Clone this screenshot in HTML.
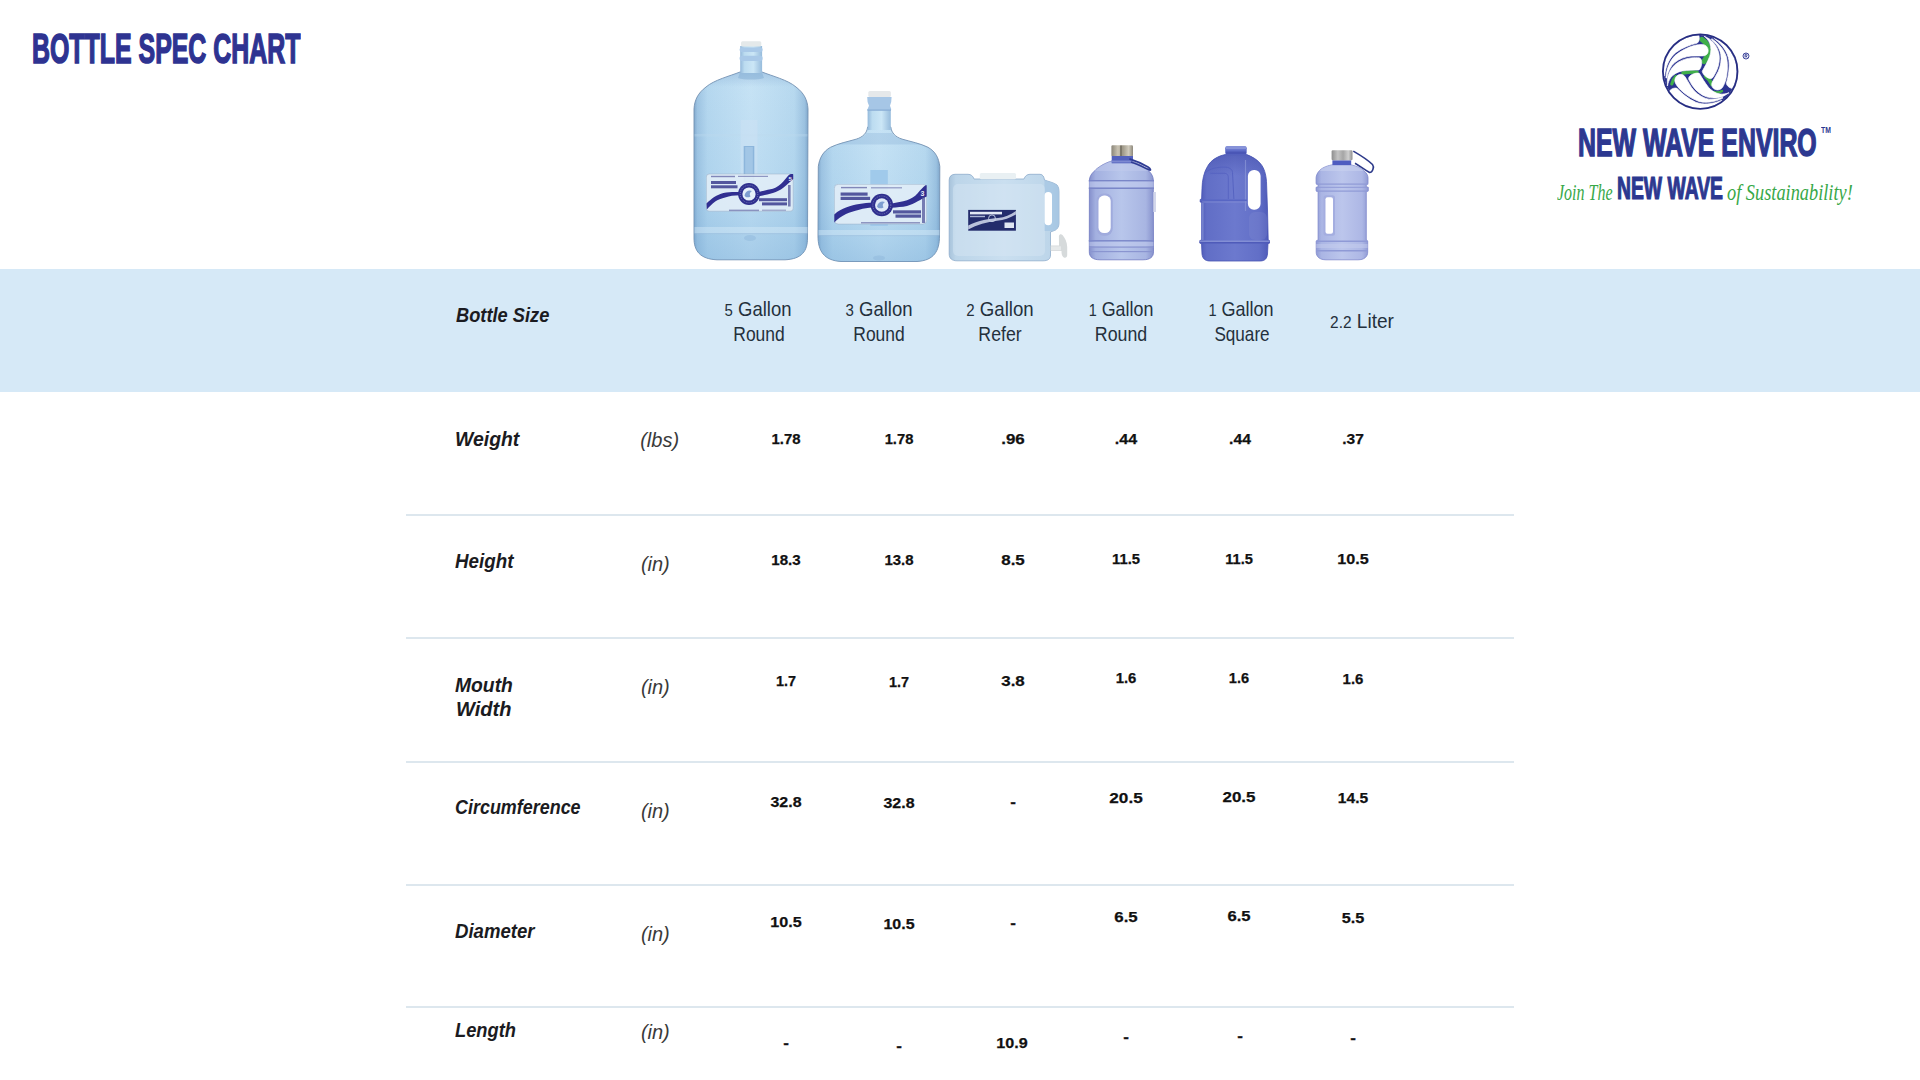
<!DOCTYPE html>
<html><head><meta charset="utf-8">
<style>
*{margin:0;padding:0;box-sizing:border-box}
html,body{width:1920px;height:1080px;overflow:hidden;background:#fff}
body{position:relative;font-family:"Liberation Sans",sans-serif}
.a{position:absolute;white-space:nowrap;line-height:1}
#title{left:31.6px;top:28px;font-size:42.5px;font-weight:bold;color:#2e3391;-webkit-text-stroke:1.6px #2e3391;transform-origin:0 0;transform:scaleX(0.586)}
#band{position:absolute;left:0;top:269px;width:1920px;height:123px;background:#d6e9f7}
.ln{position:absolute;left:406px;width:1108px;height:2px;background:#dde7ee}
.lab{font-size:21px;font-weight:bold;font-style:italic;color:#1b1b21;transform-origin:0 0}
.unit{font-size:20px;font-style:italic;color:#3a3a3a}
.hd{font-size:21px;color:#24303c;transform-origin:50% 0}
.v{font-size:15.5px;font-weight:bold;color:#111;-webkit-text-stroke:0.25px #111}
svg{position:absolute}
</style></head><body>
<div id="band"></div>
<div class="ln" style="top:514px"></div>
<div class="ln" style="top:637px"></div>
<div class="ln" style="top:761px"></div>
<div class="ln" style="top:884px"></div>
<div class="ln" style="top:1006px"></div>
<div class="a" id="title">BOTTLE SPEC CHART</div>
<svg style="left:0;top:0" width="1920" height="270" viewBox="0 0 1920 270">
<defs>
<linearGradient id="gb1" x1="0" x2="1" y1="0" y2="0">
 <stop offset="0" stop-color="#83a9cd"/><stop offset="0.03" stop-color="#9fc4e2"/><stop offset="0.12" stop-color="#b6d8ef"/><stop offset="0.5" stop-color="#c7e3f5"/><stop offset="0.88" stop-color="#b8d9ef"/><stop offset="0.97" stop-color="#9dc2e0"/><stop offset="1" stop-color="#81a7cb"/>
</linearGradient>
<linearGradient id="gn1" x1="0" x2="1" y1="0" y2="0">
 <stop offset="0" stop-color="#94b9db"/><stop offset="0.2" stop-color="#bcdcf0"/><stop offset="0.6" stop-color="#cbe6f6"/><stop offset="1" stop-color="#97bcdc"/>
</linearGradient>
<linearGradient id="gsh" x1="0" x2="0" y1="0" y2="1">
 <stop offset="0" stop-color="#7fa6d0" stop-opacity="0.9"/><stop offset="1" stop-color="#7fa6d0" stop-opacity="0"/>
</linearGradient>
<linearGradient id="gb3" x1="0" x2="1" y1="0" y2="0">
 <stop offset="0" stop-color="#a8c3db"/><stop offset="0.06" stop-color="#bcd5e9"/><stop offset="0.5" stop-color="#cadff0"/><stop offset="0.94" stop-color="#bcd5e9"/><stop offset="1" stop-color="#a9c4dc"/>
</linearGradient>
<linearGradient id="gb4" x1="0" x2="1" y1="0" y2="0">
 <stop offset="0" stop-color="#8590cc"/><stop offset="0.1" stop-color="#a3b0e0"/><stop offset="0.5" stop-color="#b8c6eb"/><stop offset="0.88" stop-color="#a8b5e2"/><stop offset="1" stop-color="#8792cd"/>
</linearGradient>
<linearGradient id="gb5" x1="0" x2="1" y1="0" y2="0">
 <stop offset="0" stop-color="#4d59b8"/><stop offset="0.1" stop-color="#616ec6"/><stop offset="0.5" stop-color="#6c79ce"/><stop offset="0.85" stop-color="#626fc7"/><stop offset="1" stop-color="#4c58b7"/>
</linearGradient>
<linearGradient id="gb6" x1="0" x2="1" y1="0" y2="0">
 <stop offset="0" stop-color="#8e99d4"/><stop offset="0.1" stop-color="#aab5e4"/><stop offset="0.5" stop-color="#bcc6ec"/><stop offset="0.88" stop-color="#adb7e5"/><stop offset="1" stop-color="#8f9ad4"/>
</linearGradient>
<linearGradient id="gmet" x1="0" x2="1" y1="0" y2="0">
 <stop offset="0" stop-color="#8a8578"/><stop offset="0.3" stop-color="#c9c3b3"/><stop offset="0.55" stop-color="#a39d8d"/><stop offset="0.8" stop-color="#d0cbbd"/><stop offset="1" stop-color="#8d887b"/>
</linearGradient>
<linearGradient id="gmet2" x1="0" x2="1" y1="0" y2="0">
 <stop offset="0" stop-color="#8e8e8e"/><stop offset="0.3" stop-color="#c4c4c4"/><stop offset="0.55" stop-color="#a5a5a5"/><stop offset="0.8" stop-color="#cfcfcf"/><stop offset="1" stop-color="#909090"/>
</linearGradient>
<linearGradient id="gv" x1="0" x2="0" y1="0" y2="1">
 <stop offset="0" stop-color="#78b2de" stop-opacity="0"/><stop offset="0.55" stop-color="#78b2de" stop-opacity="0.12"/><stop offset="1" stop-color="#6aa2d2" stop-opacity="0.36"/>
</linearGradient>
<linearGradient id="gtop5" x1="0" x2="0" y1="0" y2="1">
 <stop offset="0" stop-color="#3f4aa8" stop-opacity="0.45"/><stop offset="1" stop-color="#3f4aa8" stop-opacity="0"/>
</linearGradient>
</defs>

<!-- ===== Bottle 1: 5 gallon ===== -->
<g>
 <path d="M740,72 C730,76 714,80 706,87 C698,93 694.5,100 694,109 L694,238 C694,251 700,259 717,259.8 L785,259.8 C802,259 807.5,251 807.5,238 L808,109 C807.5,100 804,93 796,87 C788,80 772,76 762,72 Z" fill="url(#gb1)" stroke="#7390b0" stroke-width="0.9"/>
 <path d="M740,72 C730,76 714,80 706,87 C698,93 694.5,100 694,109 L694,238 C694,251 700,259 717,259.8 L785,259.8 C802,259 807.5,251 807.5,238 L808,109 C807.5,100 804,93 796,87 C788,80 772,76 762,72 Z" fill="url(#gv)"/>
 <path d="M740,72 C730,76 714,80 706,87 L796,87 C788,80 772,76 762,72 Z" fill="url(#gsh)" opacity="0.45"/>
 <path d="M740,72.5 L762,72.5 L764,78 C758,80 744,80 738,78 Z" fill="#86b0d6" opacity="0.55"/>
 <rect x="740.2" y="46" width="21.9" height="27" fill="url(#gn1)"/>
 <rect x="739.6" y="47.6" width="23" height="4.4" rx="2" fill="#a9c9e8"/>
 <rect x="739.6" y="55.8" width="23" height="5.2" rx="2" fill="#a9c9e8"/>
 <rect x="741" y="41.3" width="20.3" height="5.2" rx="1.5" fill="#e4e9ea"/>
 <rect x="694.5" y="134" width="113" height="2.5" fill="#bcd9ee" opacity="0.35"/>
 <rect x="694.5" y="227" width="113" height="6" fill="#d6ebf8" opacity="0.45"/>
 <rect x="694.5" y="233" width="113" height="1.2" fill="#9fbfdc" opacity="0.4"/>
 <ellipse cx="750" cy="238" rx="6" ry="3" fill="#8fb8dc" opacity="0.5"/>
 <rect x="740.5" y="120" width="17" height="60" fill="#cde2f3" opacity="0.5"/>
 <rect x="743.7" y="146" width="10.6" height="36" fill="#8db6dc"/>
 <rect x="745.2" y="147" width="7.6" height="34" fill="#a2c6e6"/>
 <rect x="706.3" y="174" width="86.9" height="37.2" rx="3" fill="#e2eef8" stroke="#98a9c0" stroke-width="0.5" opacity="0.9"/>
 <path d="M706.5,203.4 C711,199 717,194.5 723.4,193 C729,191.8 734,191.8 740,192 L740,195.3 C734,195.5 729,196 726,197.2 C721,198.5 717.5,200 715.6,201.3 C712,204 709,207 706.8,209.6 Z" fill="#302f91"/>
 <path d="M758.9,192 C764,190.5 769,189.8 772.9,188.8 C777,187.5 780.5,184.5 783.3,181.5 C786,178.5 788,175.5 789.6,174.6 C791,174 792.5,174 793.2,174.3 L793.2,179 C791.5,180.5 788,184 783.3,187.8 C780,190.3 777,191.8 772.9,193 C768,194.5 764,195.3 758.9,196.3 Z" fill="#302f91"/>
 <circle cx="749" cy="194" r="10.9" fill="#2f2f8e"/>
 <circle cx="749" cy="194" r="6.6" fill="#e6f0fa"/>
 <path d="M744.5,195.5 C745.5,191 749,189.5 752,191 C750,192 749,194 750.5,196.5 C748,198 745.5,197.5 744.5,195.5 Z" fill="#7e9ed0"/>
 <circle cx="749" cy="194" r="8.8" fill="none" stroke="#c8d4ee" stroke-width="0.6" stroke-dasharray="1 1.2" opacity="0.7"/>
 <rect x="711" y="175.8" width="24" height="1.4" fill="#5a5d9e" opacity="0.7"/>
 <rect x="738" y="175.8" width="30" height="1.2" fill="#5a5d9e" opacity="0.6"/>
 <rect x="711" y="181" width="25" height="3" fill="#3b3d8e" opacity="0.85"/>
 <rect x="711" y="185.3" width="26.5" height="3" fill="#3b3d8e" opacity="0.85"/>
 <rect x="759" y="198.2" width="28" height="3" fill="#3b3d8e" opacity="0.85"/>
 <rect x="762" y="202.4" width="25" height="3" fill="#3b3d8e" opacity="0.85"/>
 <rect x="788" y="185" width="2.6" height="21.5" fill="#4a4d96" opacity="0.7"/>
 <rect x="729" y="209.6" width="30" height="1.5" fill="#5a5d9e" opacity="0.6"/>
 <rect x="762" y="209.6" width="24" height="1.2" fill="#5a5d9e" opacity="0.5"/>
 <text x="788.5" y="180.5" font-family="Liberation Sans" font-weight="bold" font-size="6" fill="#e8eef8">5</text>
</g>

<!-- ===== Bottle 2: 3 gallon ===== -->
<g>
 <path d="M867.6,127 C867,133 863,137 856.4,139.1 C848,141.6 838,143.5 830.5,147.3 C823,151.5 819.5,158 818.3,166.5 L818,236 C818,251 824,260.5 841,261.5 L917,261.5 C934,260.5 939.5,251 939.5,236 L939.8,166.5 C938.8,158 935.5,151.5 928,147.3 C920.5,143.5 910.5,141.6 902,139.1 C895.5,137 891.5,133 890.8,127 Z" fill="url(#gb1)" stroke="#7390b0" stroke-width="0.9"/>
 <path d="M867.6,127 C867,133 863,137 856.4,139.1 C848,141.6 838,143.5 830.5,147.3 C823,151.5 819.5,158 818.3,166.5 L818,236 C818,251 824,260.5 841,261.5 L917,261.5 C934,260.5 939.5,251 939.5,236 L939.8,166.5 C938.8,158 935.5,151.5 928,147.3 C920.5,143.5 910.5,141.6 902,139.1 C895.5,137 891.5,133 890.8,127 Z" fill="url(#gv)"/>
 <path d="M866.5,133 C864,137 860,138.5 856.4,139.1 C848,141.6 842,143 838,144.5 L920,144.5 C916,143 910.5,141.6 902,139.1 C898.5,138.5 894.5,137 892,133 Z" fill="#86acd4" opacity="0.3"/>
 <rect x="867.6" y="109" width="23.2" height="21" fill="url(#gn1)"/>
 <path d="M867.2,97 L891.6,97 L891.2,102 L890,105.8 L891.2,109 L891,110.2 L867.6,110.2 L867.6,109 L869,105.8 L867.6,102 Z" fill="#a6c6e6"/>
 <rect x="867.4" y="109.5" width="23.6" height="1.2" fill="#86acd4"/>
 <rect x="868.3" y="91" width="22.6" height="6" rx="1.5" fill="#e5e8ea"/>
 <rect x="818.5" y="230" width="121" height="5" fill="#d6ebf8" opacity="0.45"/>
 <rect x="818.5" y="235" width="121" height="1.2" fill="#9fbfdc" opacity="0.4"/>
 <ellipse cx="879" cy="258" rx="6" ry="2.5" fill="#8fb8dc" opacity="0.5"/>
 <rect x="870.3" y="170" width="17.5" height="56" fill="#9cc8ea" opacity="0.9"/>
 <rect x="834.3" y="184.3" width="92.4" height="39.8" rx="4" fill="#e2eef8" stroke="#98a9c0" stroke-width="0.5" opacity="0.9"/>
 <path d="M834.3,214.5 C838,211 842,209 846,207.6 C851,205.6 855,204.5 859.2,203.9 C864,203.2 868,202.9 872.5,202.8 L872.5,207.6 C868,207.8 864,208.4 859.2,209.8 C854,211 850,212.3 846,214 C841,216.5 837,219.5 834.3,222.5 Z" fill="#302f91"/>
 <path d="M891.7,203.4 C897,202.2 902,201.6 907,200.2 C911,199 914.5,196.8 917.7,193.3 C920.5,190 923,187 925.6,185.3 L926.7,185.3 L926.7,196.5 C923,198 920.5,199.8 917.7,201.3 C914,203.5 911,205 907,206 C902,207 897,207.4 891.7,207.8 Z" fill="#302f91"/>
 <circle cx="881.8" cy="205" r="11.2" fill="#2f2f8e"/>
 <circle cx="881.8" cy="205" r="6.8" fill="#dfeaf8"/>
 <path d="M877,206.5 C878,202 882,200.5 885,202 C883,203 882,205 883.5,207.5 C881,209 878,208.5 877,206.5 Z" fill="#7e9ed0"/>
 <circle cx="881.8" cy="205" r="9" fill="none" stroke="#c8d4ee" stroke-width="0.6" stroke-dasharray="1 1.2" opacity="0.7"/>
 <rect x="841" y="186.9" width="26" height="1.4" fill="#5a5d9e" opacity="0.7"/>
 <rect x="871" y="187.2" width="31" height="1.2" fill="#5a5d9e" opacity="0.6"/>
 <rect x="840.6" y="192.5" width="27" height="3.2" fill="#3b3d8e" opacity="0.85"/>
 <rect x="840.6" y="196.8" width="29.5" height="3.2" fill="#3b3d8e" opacity="0.85"/>
 <rect x="893" y="210.3" width="28" height="3.2" fill="#3b3d8e" opacity="0.85"/>
 <rect x="895.5" y="214.5" width="25.5" height="3.2" fill="#3b3d8e" opacity="0.85"/>
 <rect x="922" y="197" width="3" height="26" fill="#4a4d96" opacity="0.7"/>
 <rect x="861" y="222" width="59" height="1.5" fill="#5a5d9e" opacity="0.6"/>
 <text x="920.5" y="195.5" font-family="Liberation Sans" font-weight="bold" font-size="7" fill="#e8eef8">3</text>
</g>

<!-- ===== Bottle 3: 2 gallon refer ===== -->
<g>
 <path d="M955,174.3 L968,174.3 C971,174.3 973,176 974,179 L1024,179 C1025,176 1027,174.3 1030,174.3 L1040,174.3 C1043,174.3 1044,177 1044.5,180 C1048,181.5 1054,182.5 1057,185 C1058.5,187 1059,189 1059,192 L1059,223 C1059,227 1057,230 1053,231 L1050.5,232 L1050.5,255 C1050.5,259 1048,260.8 1043,260.8 L957,260.8 C952,260.8 949.2,258.5 949.2,254 L949.2,180 C949.2,176.5 951.5,174.3 955,174.3 Z" fill="url(#gb3)" stroke="#8eaccb" stroke-width="0.8"/>
 <path d="M1044.5,180 C1048,181.5 1054,182.5 1057,185 C1058.5,187 1059,189 1059,192 L1059,223 C1059,227 1057,230 1053,231 L1044,231 Z" fill="#a6c7e4" opacity="0.8"/>
 <rect x="1044.5" y="191.9" width="7.5" height="33.3" rx="3.7" fill="#ffffff"/>
 <rect x="979.8" y="172.9" width="36.2" height="6.3" rx="1.5" fill="#e9f0f3"/>
 <rect x="953" y="184" width="92" height="72" rx="5" fill="#d6e7f3" opacity="0.45"/>
 <rect x="968.2" y="209.9" width="47.7" height="20.8" fill="#232c6c"/>
 <path d="M968.2,225.5 C978,220.5 990,218.5 998,218 C1005,217.3 1010,215 1015.9,211 L1015.9,214.5 C1010,218 1004,220 997,220.8 C987,222 977,225 968.2,229.5 Z" fill="#d3dcef" opacity="0.85"/>
 <rect x="970" y="211.8" width="32" height="2.6" fill="#e3e9f5"/>
 <rect x="970" y="215.8" width="15" height="1.4" fill="#aab5d5"/>
 <circle cx="992" cy="218.3" r="3.4" fill="none" stroke="#c9d4ea" stroke-width="0.9"/>
 <rect x="1004.5" y="222.5" width="9.5" height="5.5" fill="#dfe6f3"/>
 <path d="M1050.6,245.6 L1059,245.6 L1058.9,236 C1059.5,234 1061,233.5 1062.5,235 C1065,238 1067.2,242 1067.2,247 L1067.2,255 C1067.2,257.5 1065.5,258 1064,257.5 C1062,256.5 1061.5,254 1061.5,251.1 L1050.6,251.1 Z" fill="#d6dadb"/>
 <rect x="1051" y="246.3" width="10" height="4" fill="#e6e9ea"/>
</g>

<!-- ===== Bottle 4: 1 gallon round ===== -->
<g>
 <path d="M1111.7,161 C1105,163 1098,167 1094.4,171.1 C1091,174 1089.6,177 1089.4,180 L1089.3,252 C1089.3,257 1093,259.8 1100,259.8 L1143,259.8 C1150,259.8 1153.5,257 1153.5,252 L1153.3,180 C1153.2,177 1152,174 1148.9,171.1 C1145,167 1137,163 1129.4,160 Z" fill="url(#gb4)" stroke="#6e79c0" stroke-width="0.8"/>
 <path d="M1111.7,161 C1105,163 1098,167 1094.4,171.1 L1148.9,171.1 C1145,167 1137,163 1129.4,160 Z" fill="#c3cced" opacity="0.45"/>
 <rect x="1111.7" y="155.5" width="21.3" height="7.8" fill="#5361bd"/>
 <rect x="1111.7" y="160.5" width="21.3" height="2" fill="#7d89d2"/>
 <rect x="1111.4" y="145.3" width="21.6" height="10.8" rx="1.2" fill="url(#gmet)"/>
 <rect x="1120" y="145.5" width="2.2" height="10.5" fill="#6f6a5e" opacity="0.8"/>
 <path d="M1129.4,158.9 C1136,161 1143,164 1148,167 C1151,169 1151,170.5 1149.5,170 C1144,167.5 1137,164 1131,162" fill="none" stroke="#2f3c94" stroke-width="1.7"/>
 <rect x="1088.8" y="180" width="65.2" height="1.5" fill="#7a86c8"/>
 <rect x="1089.3" y="181.5" width="64.2" height="6" fill="#c2cbee" opacity="0.6"/>
 <rect x="1088.8" y="187.5" width="65.2" height="1.5" fill="#7a86c8"/>
 <rect x="1088.8" y="240" width="65.2" height="1.5" fill="#7f8bcb"/>
 <rect x="1089.3" y="242" width="64.2" height="4" fill="#c2cbee" opacity="0.5"/>
 <rect x="1089.3" y="246.5" width="64.2" height="1.2" fill="#8a95d0"/>
 <rect x="1089.3" y="251" width="64.2" height="1.2" fill="#8a95d0"/>
 <rect x="1096.5" y="193.6" width="16.2" height="42.2" rx="7" fill="#a0abdd"/>
 <rect x="1098.5" y="195.6" width="12.2" height="37.5" rx="5.5" fill="#ffffff"/>
 <rect x="1153" y="192" width="3" height="20" fill="#c8cde6" opacity="0.8"/>
</g>

<!-- ===== Bottle 5: 1 gallon square ===== -->
<g>
 <path d="M1225.2,154.6 C1218,156 1211,160 1207.5,166.4 C1204,172 1202.2,180 1202,188.6 L1201.6,199 L1200.2,199.5 L1200.2,202 L1201.6,202.5 L1201.6,240 L1199.8,240.6 L1199.8,243 L1201.5,243.5 L1202,254 C1202.5,258.5 1205,261 1210,261 L1260,261 C1265,261 1267,258.5 1267.5,254 L1268,243.5 L1269.5,243 L1269.5,240.6 L1268.2,240 L1267.5,210 L1266.5,181.7 C1266,174 1264,168 1261,164.3 C1258,160 1252,156.5 1246.7,154.6 Z" fill="url(#gb5)" stroke="#4653b2" stroke-width="0.8"/>
 <path d="M1225.2,154.6 C1218,156 1211,160 1207.5,166.4 C1205.5,170 1204.5,173 1204,176 L1265,176 C1264,170 1262,167 1261,164.3 C1258,160 1252,156.5 1246.7,154.6 Z" fill="url(#gtop5)"/>
 <rect x="1247.9" y="169.9" width="12.7" height="39.9" rx="6" fill="#ffffff"/>
 <path d="M1245.5,160 L1245.5,211" stroke="#8c98d8" stroke-width="1.2" opacity="0.7"/>
 <rect x="1249" y="212" width="18" height="28" rx="6" fill="#8d98d8" opacity="0.22"/>
 <rect x="1225.2" y="146.2" width="21.5" height="8.5" rx="2" fill="#5f6dc9"/>
 <rect x="1225.6" y="146.2" width="20.7" height="3" rx="1.2" fill="#8793d9"/>
 <rect x="1226" y="151.5" width="20" height="3" fill="#4a56b6"/>
 <path d="M1205.4,172.6 C1210,168.5 1217,167.1 1224.2,167.1 C1229,167.1 1232.5,169 1232.5,172.6 L1233.9,199" fill="none" stroke="#5461c0" stroke-width="0.9"/>
 <path d="M1210.3,173.3 L1224.9,173.3 C1227,173.3 1228.3,175 1228.3,177.5 L1228.3,199" fill="none" stroke="#5461c0" stroke-width="0.8"/>
 <rect x="1201" y="199.5" width="46" height="1.6" fill="#5866c4"/>
 <rect x="1202" y="201.5" width="45" height="1" fill="#8a96d8" opacity="0.7"/>
 <rect x="1199.8" y="240.6" width="69.7" height="1.2" fill="#8a96d8"/>
 <rect x="1199.8" y="242" width="69.7" height="1.5" fill="#4f5bb9"/>
 <rect x="1201.6" y="203" width="2" height="37" fill="#8c98d8" opacity="0.6"/>
</g>

<!-- ===== Bottle 6: 2.2 liter ===== -->
<g>
 <path d="M1353.3,151.1 C1360,155 1368,160 1372.5,164.5 C1374.5,167 1372.5,172.5 1369.6,172.5 C1365,170 1360,166 1355,163.3" fill="none" stroke="#2d3a8a" stroke-width="1.6"/>
 <path d="M1331.9,164.9 C1326,166 1321,168.5 1319.2,171 C1317.2,173 1316.3,175.5 1316.1,177.6 L1316.1,183.7 L1318.1,184.5 L1318.1,186.8 L1316.1,187.3 L1316.1,190.8 L1318.1,191.5 L1318.1,240 L1316.2,241 L1316.2,252 C1316.2,257 1320,259.8 1326,259.8 L1358,259.8 C1364,259.8 1367.7,257 1367.7,252 L1367.7,241 L1366.3,240 L1366.3,191.5 L1368.3,190.8 L1368.3,187.3 L1366.3,186.8 L1366.3,184.5 L1368,183.7 L1368,177.6 C1367.8,175.5 1367,173 1364,171 C1362,168.5 1357,166 1350.7,164.9 Z" fill="url(#gb6)" stroke="#7d88cc" stroke-width="0.8"/>
 <path d="M1331.9,164.9 C1326,166 1321,168.5 1319.2,171 L1364,171 C1362,168.5 1357,166 1350.7,164.9 Z" fill="#ccd3f0" opacity="0.5"/>
 <rect x="1332.4" y="160.3" width="18.8" height="4.8" fill="#4e5cc0"/>
 <rect x="1331.6" y="150.3" width="20.9" height="10" rx="1.2" fill="url(#gmet2)"/>
 <rect x="1316.2" y="183.5" width="52" height="1.2" fill="#8f9ad6"/>
 <rect x="1318" y="186.8" width="48.5" height="1" fill="#8f9ad6"/>
 <rect x="1316.2" y="190.5" width="52" height="1.2" fill="#8f9ad6"/>
 <rect x="1316.2" y="240.5" width="51.5" height="1.5" fill="#8f9ad6"/>
 <rect x="1316.2" y="244" width="51.5" height="4" fill="#c6cdee" opacity="0.5"/>
 <rect x="1316.2" y="250" width="51.5" height="1.5" fill="#8f9ad6"/>
 <rect x="1323.5" y="195.3" width="11.5" height="40.5" rx="2.5" fill="#a4aee0"/>
 <rect x="1325.5" y="197.3" width="7.5" height="36.5" rx="2" fill="#ffffff"/>
</g>
</svg>

<svg style="left:1660px;top:32px" width="80" height="80" viewBox="0 0 80 80">
 <defs>
  <clipPath id="lc"><circle cx="40.2" cy="39.6" r="36.6"/></clipPath>
  
 </defs>
 <g clip-path="url(#lc)">
  <circle cx="40.2" cy="39.6" r="37" fill="#2b3391"/>
  <path d="M42,7.5 C46,10 48.5,14 48.4,19 C48.2,23 46.5,26.5 44,29.5" fill="none" stroke="#3fae4a" stroke-width="5.2" stroke-linecap="round"/>
  <path d="M37,40.2 C33,39.8 28,40 23,41" fill="none" stroke="#3fae4a" stroke-width="3.6" stroke-linecap="round"/>
  <path d="M16,44.5 C14,46.5 12.3,49.5 11.8,52" fill="none" stroke="#3fae4a" stroke-width="3.2" stroke-linecap="round"/>
  <path d="M45.5,44 C48.5,46.5 50.8,49.5 52,52.5" fill="none" stroke="#3fae4a" stroke-width="3.6" stroke-linecap="round"/>
  <path d="M54,60 C57,61 60,60.5 62,59" fill="none" stroke="#3fae4a" stroke-width="2.4" stroke-linecap="round"/>
  <g stroke="#fff" stroke-width="0.65">
   <path d="M3.9,44 A36.3,36.3 0 0 1 38.8,3.3 C39.9,6.5 39,9.8 37.3,11.1 C30,12.9 22,15.9 16,20.4 C10,25.4 5.8,33 4.6,44 Z" fill="#fff"/>
   <path d="M5.9,46 C6.6,36 10,28.8 15,23.6 C21,18.5 28,15.2 34,13.5 C37,12.7 40,12.3 42.5,12.4 C46,12.8 48.2,15.3 48.2,18.7 C48.2,21.8 46,23.7 43,23.9 C39,24 35,23.9 31,24.1 C25,24.7 19.5,26.8 14.8,30.5 C10.5,34.2 8,39.5 6.8,46 Z" fill="#fff"/>
   <path d="M7.3,48 C8.3,41 11.1,36.2 15.2,32.4 C19.5,28.8 25,26.5 31,25.9 C34,25.6 37,25.6 39.2,25.8 C41.2,26.3 41.9,28.6 41.7,31.5 C41.4,34.5 40.5,36.8 38.9,38 C34,38 28,38.1 22.5,38.9 C17.5,39.8 13.5,42.2 10.8,45.6 C9,48 8,51 7.5,54 Z" fill="#fff"/>
  </g>
  <g stroke="#fff" stroke-width="0.65" transform="rotate(120 40.2 39.6)">
   <path d="M3.9,44 A36.3,36.3 0 0 1 38.8,3.3 C39.9,6.5 39,9.8 37.3,11.1 C30,12.9 22,15.9 16,20.4 C10,25.4 5.8,33 4.6,44 Z" fill="#fff"/>
   <path d="M5.9,46 C6.6,36 10,28.8 15,23.6 C21,18.5 28,15.2 34,13.5 C37,12.7 40,12.3 42.5,12.4 C46,12.8 48.2,15.3 48.2,18.7 C48.2,21.8 46,23.7 43,23.9 C39,24 35,23.9 31,24.1 C25,24.7 19.5,26.8 14.8,30.5 C10.5,34.2 8,39.5 6.8,46 Z" fill="#fff"/>
   <path d="M7.3,48 C8.3,41 11.1,36.2 15.2,32.4 C19.5,28.8 25,26.5 31,25.9 C34,25.6 37,25.6 39.2,25.8 C41.2,26.3 41.9,28.6 41.7,31.5 C41.4,34.5 40.5,36.8 38.9,38 C34,38 28,38.1 22.5,38.9 C17.5,39.8 13.5,42.2 10.8,45.6 C9,48 8,51 7.5,54 Z" fill="#fff"/>
  </g>
  <g stroke="#fff" stroke-width="0.65" transform="rotate(240 40.2 39.6)">
   <path d="M3.9,44 A36.3,36.3 0 0 1 38.8,3.3 C39.9,6.5 39,9.8 37.3,11.1 C30,12.9 22,15.9 16,20.4 C10,25.4 5.8,33 4.6,44 Z" fill="#fff"/>
   <path d="M5.9,46 C6.6,36 10,28.8 15,23.6 C21,18.5 28,15.2 34,13.5 C37,12.7 40,12.3 42.5,12.4 C46,12.8 48.2,15.3 48.2,18.7 C48.2,21.8 46,23.7 43,23.9 C39,24 35,23.9 31,24.1 C25,24.7 19.5,26.8 14.8,30.5 C10.5,34.2 8,39.5 6.8,46 Z" fill="#fff"/>
   <path d="M7.3,48 C8.3,41 11.1,36.2 15.2,32.4 C19.5,28.8 25,26.5 31,25.9 C34,25.6 37,25.6 39.2,25.8 C41.2,26.3 41.9,28.6 41.7,31.5 C41.4,34.5 40.5,36.8 38.9,38 C34,38 28,38.1 22.5,38.9 C17.5,39.8 13.5,42.2 10.8,45.6 C9,48 8,51 7.5,54 Z" fill="#fff"/>
  </g>
 </g>
 <circle cx="40.2" cy="39.6" r="37.3" fill="none" stroke="#262d82" stroke-width="1.8"/>
</svg>
<svg style="left:1742px;top:51.5px" width="8" height="8" viewBox="-4 -4 8 8"><circle r="3" fill="none" stroke="#2b3391" stroke-width="0.9"/><path d="M-1,1.7 V-1.7 H0.4 A0.85,0.85 0 0 1 0.4,0 H-1 M0.2,0 L1.2,1.7" fill="none" stroke="#2b3391" stroke-width="0.8"/></svg>
<div class="a" style="left:1577.8px;top:122.8px;font-size:39.5px;font-weight:bold;color:#2c3890;-webkit-text-stroke:1.5px #2c3890;transform-origin:0 0;transform:scaleX(0.630)">NEW WAVE ENVIRO</div>
<div class="a" style="left:1821px;top:125.7px;font-size:9px;font-weight:bold;color:#2c3890;transform-origin:0 0;transform:scaleX(0.76)">TM</div>
<div class="a" style="left:1557.3px;top:181px;font-family:'Liberation Serif',serif;font-style:italic;font-size:23px;color:#38a848;transform-origin:0 0;transform:scaleX(0.696)">Join The</div>
<div class="a" style="left:1616.6px;top:172.5px;font-size:30.5px;font-weight:bold;color:#2c3890;-webkit-text-stroke:1.2px #2c3890;transform-origin:0 0;transform:scaleX(0.634)">NEW WAVE</div>
<div class="a" style="left:1726.9px;top:180.5px;font-family:'Liberation Serif',serif;font-style:italic;font-size:23px;color:#38a848;transform-origin:0 0;transform:scaleX(0.797)">of Sustainability!</div>

<div class="a lab" style="left:456.0px;top:303.9px;transform:scaleX(0.869)">Bottle Size</div>
<div class="a lab" style="left:455.0px;top:427.6px;transform:scaleX(0.924)">Weight</div>
<div class="a lab" style="left:455.2px;top:550.1px;transform:scaleX(0.894)">Height</div>
<div class="a lab" style="left:454.5px;top:673.5px;transform:scaleX(0.919)">Mouth</div>
<div class="a lab" style="left:455.6px;top:698.2px;transform:scaleX(0.955)">Width</div>
<div class="a lab" style="left:455.2px;top:796.4px;transform:scaleX(0.854)">Circumference</div>
<div class="a lab" style="left:455.2px;top:920.1px;transform:scaleX(0.885)">Diameter</div>
<div class="a lab" style="left:455.2px;top:1018.5px;transform:scaleX(0.870)">Length</div>
<div class="a unit" style="left:640.2px;top:429.9px">(lbs)</div>
<div class="a unit" style="left:640.9px;top:553.6px">(in)</div>
<div class="a unit" style="left:640.9px;top:677.0px">(in)</div>
<div class="a unit" style="left:640.9px;top:800.5px">(in)</div>
<div class="a unit" style="left:640.9px;top:923.6px">(in)</div>
<div class="a unit" style="left:640.9px;top:1022.0px">(in)</div>
<div class="a hd" style="left:758.4px;top:298.3px;transform:translateX(-50%) scaleX(0.880)"><span style="font-size:17px">5</span> Gallon</div>
<div class="a hd" style="left:758.5px;top:322.9px;transform:translateX(-50%) scaleX(0.831)">Round</div>
<div class="a hd" style="left:878.9px;top:298.3px;transform:translateX(-50%) scaleX(0.882)"><span style="font-size:17px">3</span> Gallon</div>
<div class="a hd" style="left:879.0px;top:322.9px;transform:translateX(-50%) scaleX(0.831)">Round</div>
<div class="a hd" style="left:999.7px;top:298.3px;transform:translateX(-50%) scaleX(0.888)"><span style="font-size:17px">2</span> Gallon</div>
<div class="a hd" style="left:1000.1px;top:322.9px;transform:translateX(-50%) scaleX(0.843)">Refer</div>
<div class="a hd" style="left:1120.5px;top:298.3px;transform:translateX(-50%) scaleX(0.851)"><span style="font-size:17px">1</span> Gallon</div>
<div class="a hd" style="left:1120.8px;top:322.9px;transform:translateX(-50%) scaleX(0.846)">Round</div>
<div class="a hd" style="left:1241.3px;top:298.3px;transform:translateX(-50%) scaleX(0.858)"><span style="font-size:17px">1</span> Gallon</div>
<div class="a hd" style="left:1242.0px;top:322.9px;transform:translateX(-50%) scaleX(0.815)">Square</div>
<div class="a hd" style="left:1362.3px;top:310.3px;transform:translateX(-50%) scaleX(0.907)"><span style="font-size:17px">2.2</span> Liter</div>
<div class="a v" style="left:785.5px;top:431.0px;transform:translateX(-50%) scaleX(0.963)">1.78</div>
<div class="a v" style="left:899.1px;top:431.0px;transform:translateX(-50%) scaleX(0.952)">1.78</div>
<div class="a v" style="left:1012.5px;top:431.0px;transform:translateX(-50%) scaleX(1.093)">.96</div>
<div class="a v" style="left:1126.0px;top:431.0px;transform:translateX(-50%) scaleX(1.037)">.44</div>
<div class="a v" style="left:1239.5px;top:431.0px;transform:translateX(-50%) scaleX(1.014)">.44</div>
<div class="a v" style="left:1352.9px;top:431.0px;transform:translateX(-50%) scaleX(1.005)">.37</div>
<div class="a v" style="left:785.8px;top:551.9px;transform:translateX(-50%) scaleX(0.976)">18.3</div>
<div class="a v" style="left:898.9px;top:552.2px;transform:translateX(-50%) scaleX(0.966)">13.8</div>
<div class="a v" style="left:1012.5px;top:552.0px;transform:translateX(-50%) scaleX(1.093)">8.5</div>
<div class="a v" style="left:1126.0px;top:550.8px;transform:translateX(-50%) scaleX(0.954)">11.5</div>
<div class="a v" style="left:1239.4px;top:550.5px;transform:translateX(-50%) scaleX(0.944)">11.5</div>
<div class="a v" style="left:1352.7px;top:551.0px;transform:translateX(-50%) scaleX(1.041)">10.5</div>
<div class="a v" style="left:785.8px;top:672.9px;transform:translateX(-50%) scaleX(0.931)">1.7</div>
<div class="a v" style="left:899.3px;top:674.0px;transform:translateX(-50%) scaleX(0.931)">1.7</div>
<div class="a v" style="left:1012.5px;top:672.9px;transform:translateX(-50%) scaleX(1.093)">3.8</div>
<div class="a v" style="left:1125.8px;top:670.3px;transform:translateX(-50%) scaleX(0.961)">1.6</div>
<div class="a v" style="left:1239.3px;top:669.6px;transform:translateX(-50%) scaleX(0.941)">1.6</div>
<div class="a v" style="left:1352.9px;top:670.6px;transform:translateX(-50%) scaleX(0.966)">1.6</div>
<div class="a v" style="left:785.7px;top:793.7px;transform:translateX(-50%) scaleX(1.031)">32.8</div>
<div class="a v" style="left:899.2px;top:794.8px;transform:translateX(-50%) scaleX(1.031)">32.8</div>
<div class="a v" style="left:1012.7px;top:794.0px;transform:translateX(-50%) scaleX(1.100)">-</div>
<div class="a v" style="left:1125.9px;top:789.6px;transform:translateX(-50%) scaleX(1.105)">20.5</div>
<div class="a v" style="left:1239.3px;top:788.8px;transform:translateX(-50%) scaleX(1.095)">20.5</div>
<div class="a v" style="left:1352.5px;top:790.3px;transform:translateX(-50%) scaleX(1.003)">14.5</div>
<div class="a v" style="left:785.8px;top:914.4px;transform:translateX(-50%) scaleX(1.041)">10.5</div>
<div class="a v" style="left:899.2px;top:916.3px;transform:translateX(-50%) scaleX(1.031)">10.5</div>
<div class="a v" style="left:1012.7px;top:914.7px;transform:translateX(-50%) scaleX(1.100)">-</div>
<div class="a v" style="left:1126.0px;top:909.1px;transform:translateX(-50%) scaleX(1.088)">6.5</div>
<div class="a v" style="left:1239.2px;top:908.3px;transform:translateX(-50%) scaleX(1.074)">6.5</div>
<div class="a v" style="left:1352.7px;top:910.3px;transform:translateX(-50%) scaleX(1.049)">5.5</div>
<div class="a v" style="left:786.2px;top:1035.3px;transform:translateX(-50%) scaleX(1.100)">-</div>
<div class="a v" style="left:899.4px;top:1037.8px;transform:translateX(-50%) scaleX(1.100)">-</div>
<div class="a v" style="left:1012.3px;top:1035.2px;transform:translateX(-50%) scaleX(1.041)">10.9</div>
<div class="a v" style="left:1126.1px;top:1029.3px;transform:translateX(-50%) scaleX(1.100)">-</div>
<div class="a v" style="left:1239.6px;top:1027.8px;transform:translateX(-50%) scaleX(1.100)">-</div>
<div class="a v" style="left:1352.6px;top:1030.4px;transform:translateX(-50%) scaleX(1.100)">-</div>
</body></html>
